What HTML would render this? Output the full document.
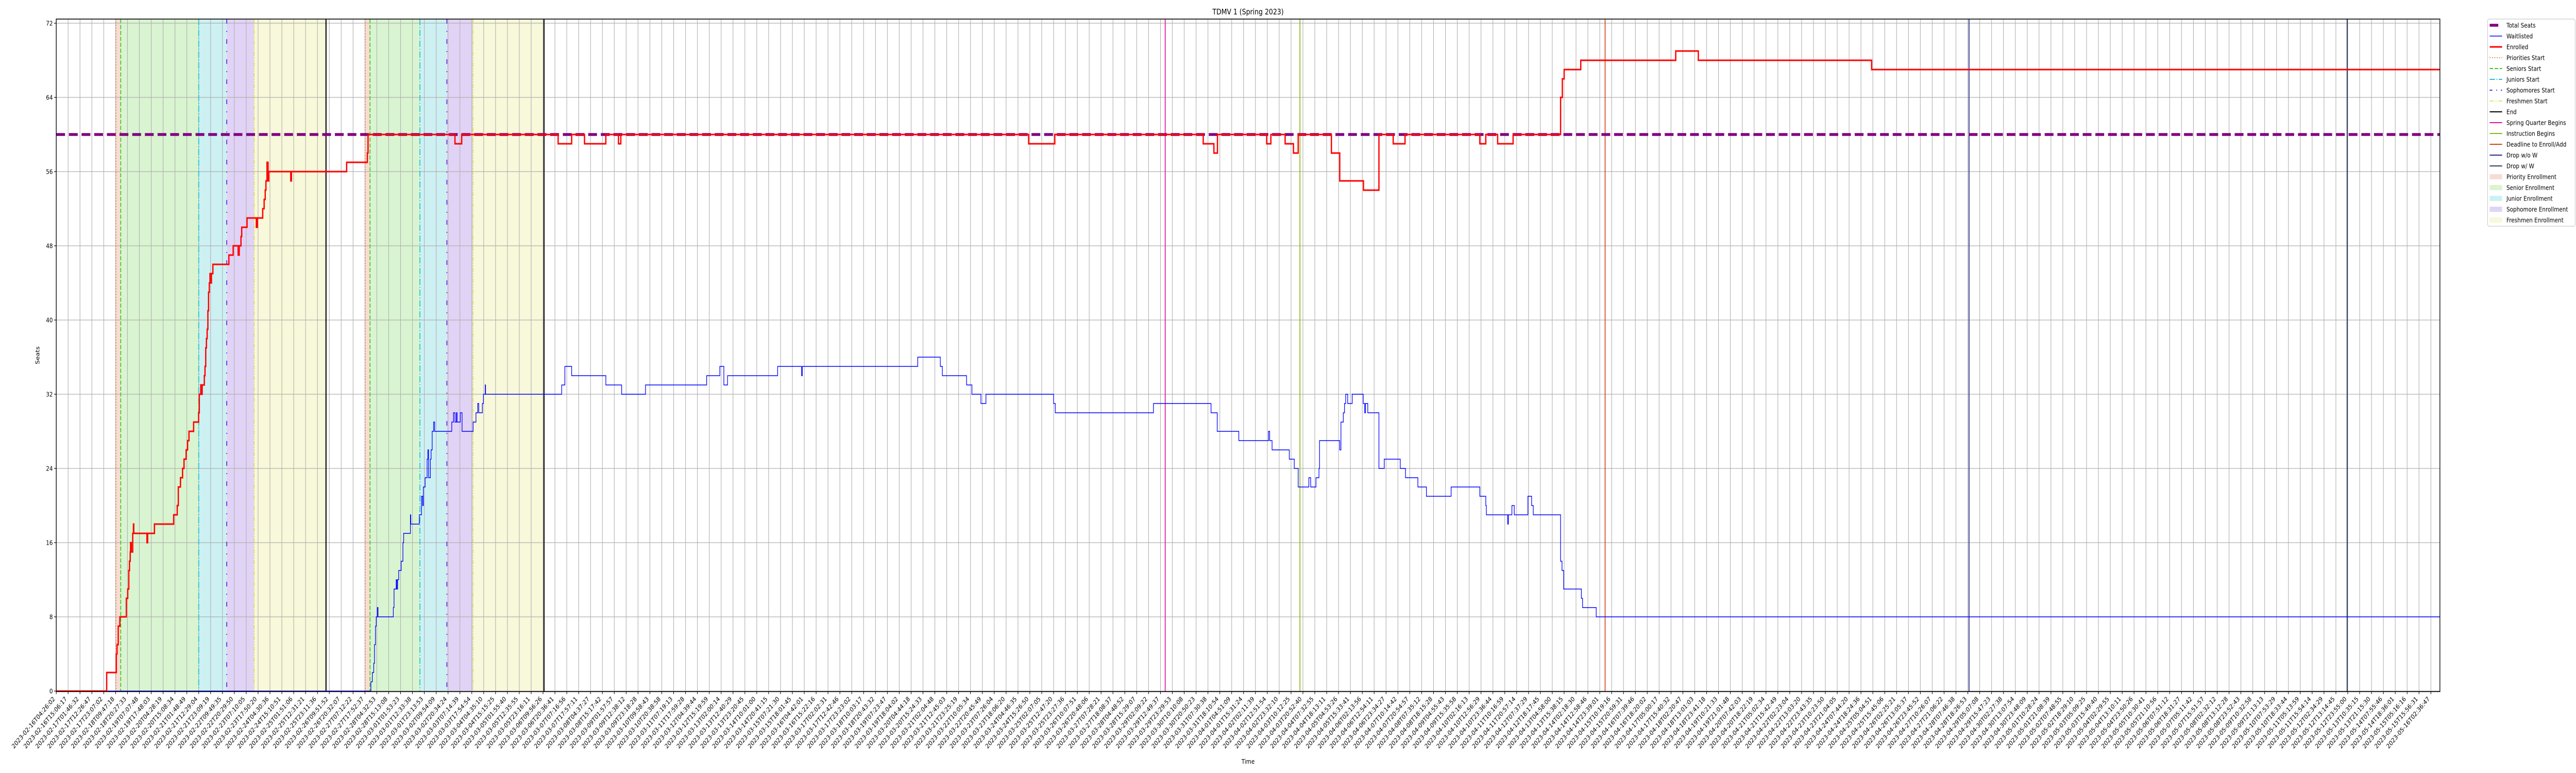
<!DOCTYPE html>
<html><head><meta charset="utf-8"><title>TDMV 1 (Spring 2023)</title>
<style>html,body{margin:0;padding:0;background:#fff;width:100%;height:100%;overflow:hidden}svg{display:block;width:100vw;height:100vh;overflow:hidden;font-family:"DejaVu Sans","Liberation Sans",sans-serif}</style>
</head><body>
<svg id="chart" viewBox="0 0 6000 1500" preserveAspectRatio="none" xmlns="http://www.w3.org/2000/svg"></svg>
<script>
// ---- data ----
const yTicks = [0, 8, 16, 24, 32, 40, 48, 56, 64, 72];
const totalSeats = 60;
const enrolledX = [0,4.25,5.06,5.12,5.22,5.36,5.90,6.02,6.11,6.17,6.23,6.26,6.32,6.44,6.50,6.53,7.64,7.70,8.27,9.89,10.19,10.28,10.46,10.64,10.76,10.94,11.06,11.18,11.57,11.99,12.05,12.17,12.23,12.29,12.47,12.53,12.59,12.65,12.71,12.77,12.83,12.89,12.95,13.01,13.07,13.19,14.54,14.90,15.32,15.41,15.56,15.62,16.07,16.85,16.94,17.39,17.51,17.60,17.66,17.75,17.84,17.90,19.75,19.81,24.46,26.20,26.26,33.58,34.15,42.27,43.41,44.49,46.29,47.35,47.55,81.9,84.1,96.6,97.5,97.8,101.95,102.3,103.5,104.2,104.6,107.4,108.1,110.1,111.4,112.6,113.6,119.9,120.4,121.4,122.7,126.7,126.85,127.0,128.4,136.4,138.3,152.9];
const enrolledY = [0,2,4,5,7,8,10,11,13,14,15,16,15,17,18,17,16,17,18,19,20,22,23,24,25,26,27,28,29,30,32,33,32,33,34,35,37,38,39,41,43,44,45,44,45,46,47,48,47,48,49,50,51,50,51,52,53,54,55,57,55,56,55,56,57,58,60,59,60,59,60,59,60,59,60,59,60,59,58,60,59,60,59,58,60,58,55,54,60,59,60,59,60,59,60,64,66,67,68,69,68,67];
const waitX = [0,26.5,26.62,26.74,26.8,26.89,26.95,27.04,27.1,28.39,28.45,28.63,28.69,28.75,28.84,29.05,29.2,29.26,29.83,29.86,30.58,30.76,30.86,30.92,31.07,31.24,31.3,31.36,31.51,31.57,31.66,31.78,31.87,33.31,33.46,33.58,33.7,33.76,34.03,34.18,35.11,35.35,35.5,35.59,35.89,35.98,36.13,36.16,42.57,42.84,43.41,46.29,47.62,49.63,54.78,55.89,56.23,56.54,60.76,62.77,62.84,72.56,74.46,74.63,76.67,77.12,77.88,78.3,84.0,84.14,92.41,97.26,97.78,99.6,102.1,102.2,102.4,103.85,104.27,104.6,105.5,105.65,106.1,106.35,106.4,108.1,108.2,108.4,108.5,108.6,108.77,109.15,110.08,110.2,110.27,110.46,111.4,111.85,113.2,113.64,114.68,115.4,117.48,119.9,120.4,120.45,122.25,122.3,122.6,122.8,123.95,124.26,124.4,126.7,126.82,126.96,128.45,128.55,129.7];
const waitY = [0,1,2,3,5,7,8,9,8,9,11,12,11,12,13,14,16,17,19,18,19,21,20,22,23,25,26,23,25,26,28,29,28,29,30,29,30,29,30,28,29,30,31,30,31,32,33,32,33,35,34,33,32,33,34,35,33,34,35,34,35,36,35,34,33,32,31,32,31,30,31,30,28,27,28,27,26,25,24,22,23,22,23,24,27,26,29,30,31,32,31,32,31,30,31,30,24,25,24,23,22,21,22,21,20,19,18,19,20,19,21,20,19,14,13,11,10,9,8];
// event markers (positions on the categorical time axis)
const priorityStarts = [5.03, 26.02];
const seniorStarts = [5.43, 26.43];
const juniorStarts = [12.0, 30.63];
const sophomoreStarts = [14.36, 32.9];
const freshmenStarts = [16.67, 35.1];
const ends = [22.72, 41.08];
const springBegins = [93.4];
const instructionBegins = [104.75];
const deadlineEnroll = [130.45];
const dropNoW = [161.1];
const dropW = [192.95];
// tick labels
const tickStart = Date.UTC(2023,1,16,4,26,2);
const tickEnd = Date.UTC(2023,4,16,2,36,47);
const tickCount = 201;
const tickLabels = [];
for (let k = 0; k < tickCount; k++) {
  const d = new Date(tickStart + (tickEnd - tickStart) * k / (tickCount - 1));
  tickLabels.push(d.toISOString().slice(0,19));
}

// ---- layout ----
const L = 131, R = 5683, T = 37, B = 1342;
const xStep = 27.655;
const xMax = (R - L) / xStep;
const X = i => L + xStep * i;
const Y = v => 1341 - 18 * v;
const NS = 'http://www.w3.org/2000/svg';
const svg = document.getElementById('chart');
function mk(tag, attrs, parent) {
  const e = document.createElementNS(NS, tag);
  for (const k in attrs) e.setAttribute(k, attrs[k]);
  (parent || svg).appendChild(e);
  return e;
}

const bg = mk('rect', {x:L, y:T, width:R-L, height:B-T, fill:'#fff'});



const spanDefs = [
  [priorityStarts, seniorStarts, '#f6ddd3', 'priority-enrollment-span'],
  [seniorStarts, juniorStarts, '#d9f4d0', 'senior-enrollment-span'],
  [juniorStarts, sophomoreStarts, '#cdf0f3', 'junior-enrollment-span'],
  [sophomoreStarts, freshmenStarts, '#e1d3f5', 'sophomore-enrollment-span'],
  [freshmenStarts, ends, '#f8f8da', 'freshmen-enrollment-span']
];
spanDefs.forEach(sd => {
  sd[0].forEach((s, k) => {
    const r = mk('rect', {x:X(s), y:T, width:X(sd[1][k]) - X(s), height:B-T, fill:sd[2]});
    
    
  });
});

const grid = mk('g', {stroke:'#b0b0b0', 'stroke-width':1.3});


tickLabels.forEach((t, k) => {
  mk('line', {x1:X(k), x2:X(k), y1:T, y2:B}, grid);
});
yTicks.forEach(v => {
  mk('line', {x1:L, x2:R, y1:Y(v), y2:Y(v)}, grid);
});

const lineDefs = [
  [priorityStarts, '#f07a3a', 2, '2 3.5', 'priorities-start-line'],
  [seniorStarts, '#3ec81e', 2, '8 3.5', 'seniors-start-line'],
  [juniorStarts, '#19c3d2', 2, '12 3.5 2 3.5', 'juniors-start-line'],
  [sophomoreStarts, '#7030e0', 2.2, '9 14 2 14', 'sophomores-start-line'],
  [freshmenStarts, '#dede22', 1.6, '8 3 2 3 2 3', 'freshmen-start-line'],
  [ends, '#000', 2.5, '', 'end-line'],
  [springBegins, '#e0109a', 2, '', 'spring-quarter-begins-line'],
  [instructionBegins, '#8db51a', 2, '', 'instruction-begins-line'],
  [deadlineEnroll, '#d4421a', 2, '', 'deadline-enroll-line'],
  [dropNoW, '#2a2a8c', 2, '', 'drop-without-w-line'],
  [dropW, '#2f3f60', 2.5, '', 'drop-with-w-line']
];
lineDefs.forEach(ld => {
  ld[0].forEach(p => {
    const a = {x1:X(p), x2:X(p), y1:T, y2:B, stroke:ld[1], 'stroke-width':ld[2]};
    if (ld[3]) a['stroke-dasharray'] = ld[3];
    const ln = mk('line', a);
    
    
  });
});

function stepPath(xs, ys) {
  let d = 'M' + X(xs[0]).toFixed(1) + ',' + Y(ys[0]).toFixed(1);
  for (let k = 1; k < xs.length; k++) {
    d += 'H' + X(xs[k]).toFixed(1) + 'V' + Y(ys[k]).toFixed(1);
  }
  d += 'H' + X(xMax).toFixed(1);
  return d;
}
const ts = mk('line', {x1:L, x2:R, y1:Y(totalSeats), y2:Y(totalSeats), stroke:'#800080', 'stroke-width':5.6, 'stroke-dasharray':'20.5 9'});


const wl = mk('path', {d:stepPath(waitX, waitY), fill:'none', stroke:'#0000ff', 'stroke-width':1.5});


const en = mk('path', {d:stepPath(enrolledX, enrolledY), fill:'none', stroke:'#ff0000', 'stroke-width':3});



const sp = mk('rect', {x:L, y:T, width:R-L, height:B-T, fill:'none', stroke:'#000', 'stroke-width':1.6});



const xt = mk('g', {});


tickLabels.forEach((t, k) => {
  mk('line', {x1:X(k), x2:X(k), y1:B, y2:B+5, stroke:'#000', 'stroke-width':1.2}, xt);
  const tx = mk('text', {transform:'translate(' + (X(k) - 2).toFixed(1) + ',1357) rotate(-45)', 'text-anchor':'end', 'font-size':12.5, fill:'#000'}, xt);
  
  
  tx.textContent = t;
});
const yt = mk('g', {});


yTicks.forEach(v => {
  mk('line', {x1:L-5, x2:L, y1:Y(v), y2:Y(v), stroke:'#000', 'stroke-width':1.2}, yt);
  const tx = mk('text', {x:L-8, y:Y(v)+4.5, 'text-anchor':'end', 'font-size':12.5, fill:'#000'}, yt);
  
  
  tx.textContent = v;
});

const title = mk('text', {x:(L+R)/2, y:28, 'text-anchor':'middle', 'font-size':15, fill:'#000'});


title.textContent = 'TDMV 1 (Spring 2023)';
const xl = mk('text', {x:(L+R)/2, y:1482, 'text-anchor':'middle', 'font-size':12.5, fill:'#000'});


xl.textContent = 'Time';
const yl = mk('text', {transform:'translate(92,' + ((T+B)/2) + ') rotate(-90)', 'text-anchor':'middle', 'font-size':12.5, fill:'#000'});


yl.textContent = 'Seats';

const lg = mk('g', {});


mk('rect', {x:5794, y:37, width:204, height:402, rx:4, fill:'#fff', 'fill-opacity':0.8, stroke:'#cccccc', 'stroke-width':1.3}, lg);
const legendItems = [
  ['Total Seats','line','#800080',5.6,''],
  ['Waitlisted','line','#0000ff',1.5,''],
  ['Enrolled','line','#ff0000',3,''],
  ['Priorities Start','line','#f07a3a',2,'2 3.5'],
  ['Seniors Start','line','#3ec81e',2,'8 3.5'],
  ['Juniors Start','line','#19c3d2',2,'12 3.5 2 3.5'],
  ['Sophomores Start','line','#7030e0',2.2,'6 9 2 9'],
  ['Freshmen Start','line','#dede22',1.6,'8 3 2 3 2 3'],
  ['End','line','#000',2,''],
  ['Spring Quarter Begins','line','#e0109a',2,''],
  ['Instruction Begins','line','#8db51a',2,''],
  ['Deadline to Enroll/Add','line','#d4421a',2,''],
  ['Drop w/o W','line','#2a2a8c',2,''],
  ['Drop w/ W','line','#2f3f60',2,''],
  ['Priority Enrollment','patch','#f6ddd3',0,''],
  ['Senior Enrollment','patch','#d9f4d0',0,''],
  ['Junior Enrollment','patch','#cdf0f3',0,''],
  ['Sophomore Enrollment','patch','#e1d3f5',0,''],
  ['Freshmen Enrollment','patch','#f8f8da',0,'']
];
legendItems.forEach((it, k) => {
  const cy = 49 + 21 * k;
  const g = mk('g', {}, lg);
  
  
  if (it[1] === 'line') {
    const a = {x1:5799, x2:5828, y1:cy, y2:cy, stroke:it[2], 'stroke-width':it[3]};
    if (it[4]) a['stroke-dasharray'] = it[4];
    if (k === 0) { a.x2 = 5819; }
    mk('line', a, g);
  } else {
    mk('rect', {x:5799, y:cy-5, width:29, height:10, fill:it[2]}, g);
  }
  const tx = mk('text', {x:5838, y:cy+4.5, 'font-size':12.5, fill:'#000'}, g);
  tx.textContent = it[0];
});
</script>
</body></html>
